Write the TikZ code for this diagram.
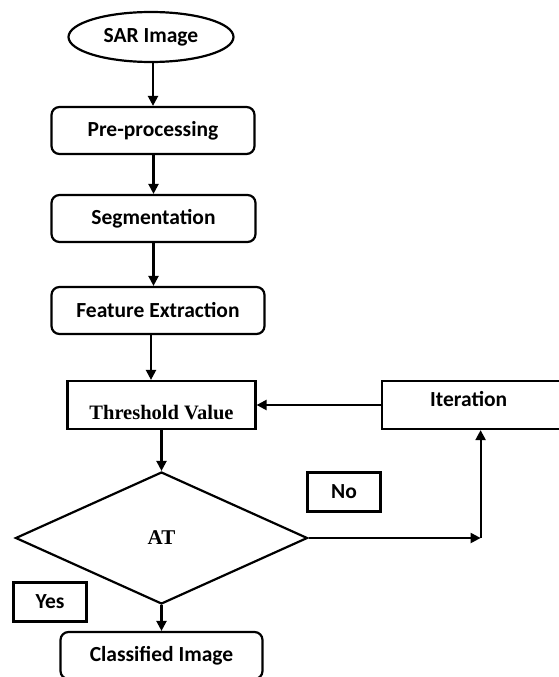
\documentclass[tikz,border=0pt]{standalone}
\usepackage{fontspec}
\setmainfont{Carlito}
\newfontfamily\serifbold{Liberation Serif}
\usetikzlibrary{positioning, shapes.geometric, arrows.meta}

\begin{document}
\begin{tikzpicture}[x=1pt, y=-1pt, line width=2.2pt, >={Triangle[length=10pt, width=10pt]},
    every node/.style={font=\fontsize{21.5}{24}\selectfont\bfseries},
    stepbox/.style={draw, rectangle, rounded corners=8pt, minimum height=47pt, inner sep=0pt},
    flatbox/.style={draw, rectangle, minimum height=48pt, inner sep=0pt},
    tagbox/.style={draw, rectangle, minimum width=73pt, minimum height=39pt, inner sep=0pt}]
    \clip (0,0) rectangle (559,677);
    \node[draw, ellipse, minimum width=165pt, minimum height=50pt, inner sep=0pt] (sar) at (151,37) {SAR Image};
    \node[stepbox, below=42.8pt of sar, xshift=2pt, minimum width=203pt] (pre) {Pre-processing};
    \node[stepbox, below=38.8pt of pre.south west, anchor=north west, minimum width=204pt] (seg) {Segmentation};
    \node[stepbox, below=42.8pt of seg.south west, anchor=north west, minimum width=213pt] (feat) {Feature Extraction};
    \node[flatbox, below=44.8pt of feat.south west, anchor=north west, xshift=16pt, minimum width=188pt,
        font=\fontsize{20.5}{24}\serifbold\bfseries] (thr) {\raisebox{-14pt}[0pt][0pt]{Threshold Value}};
    \node[flatbox, right=124pt of thr, minimum width=184pt] (iter) {\hspace*{-10pt}\raisebox{-1pt}[0pt][0pt]{Iteration}};
    \node[draw, diamond, below=40.8pt of thr, minimum width=292pt, minimum height=132pt, inner sep=0pt,
        font=\fontsize{21}{24}\serifbold\bfseries] (dec) {AT};
    \node[tagbox] (no) at (344,492) {No};
    \node[tagbox] (yes) at (50,602) {Yes};
    \node[stepbox, below=25.8pt of dec, minimum width=202pt] (cls) {Classified Image};
    \coordinate[right=172pt of dec.east] (turn);

    \draw[->] (sar.south -| pre.north) -- (pre.north);
    \draw[->] (pre.south -| seg.north) -- (seg.north);
    \draw[->] (seg.south) -- (seg.south |- feat.north);
    \draw[->] (feat.south -| sar) -- (sar |- thr.north);
    \draw[->] (thr) -- (dec);
    \draw[->] (iter) -- (thr);
    \draw[->] (dec.east) -- (turn);
    \draw[->] (turn) -- (turn |- iter.south);
    \draw[->] (dec) -- (cls);
\end{tikzpicture}
\end{document}
